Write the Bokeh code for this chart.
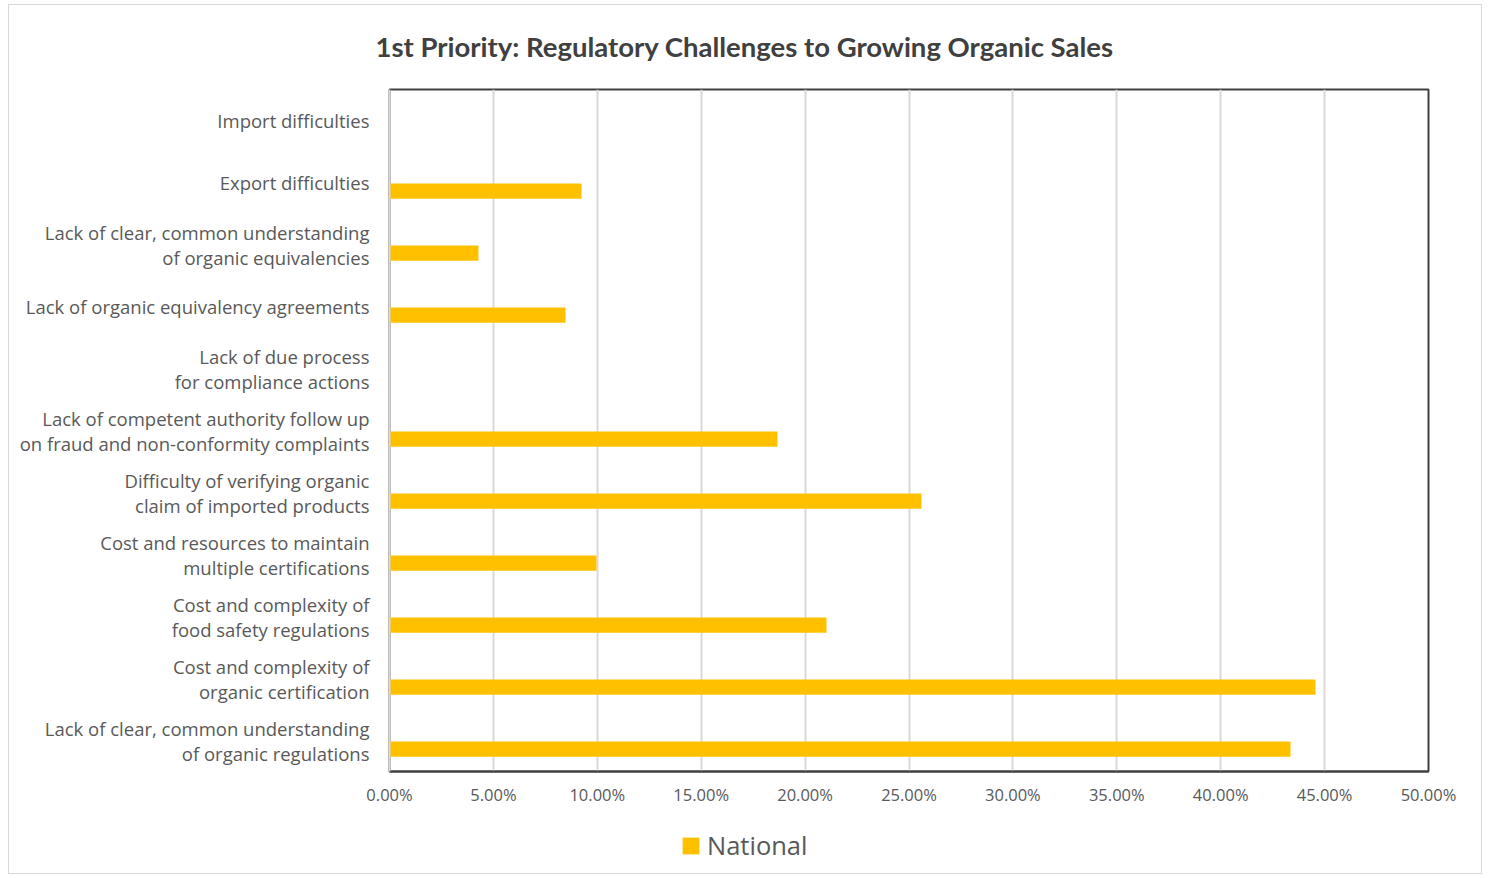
from bokeh.plotting import figure
from bokeh.layouts import column
from bokeh.models import (FactorRange, Range1d, NumeralTickFormatter, SingleIntervalTicker,
                          Legend, LegendItem, LinearAxis, CategoricalAxis, Title, ColumnDataSource)
from bokeh.transform import dodge
from bokeh.embed import file_html
from bokeh.resources import INLINE

# ---- data (top to bottom as shown) ----
categories = [
    "Import difficulties",
    "Export difficulties",
    "Lack of clear, common understanding\nof organic equivalencies",
    "Lack of organic equivalency agreements",
    "Lack of due process\nfor compliance actions",
    "Lack of competent authority follow up\non fraud and non-conformity complaints",
    "Difficulty of verifying organic\nclaim of imported products",
    "Cost and resources to maintain\nmultiple certifications",
    "Cost and complexity of\nfood safety regulations",
    "Cost and complexity of\norganic certification",
    "Lack of clear, common understanding\nof organic regulations",
]
national = [0.0, 0.0924, 0.0428, 0.0847, 0.0, 0.1867, 0.2560, 0.0996, 0.2103, 0.4456, 0.4336]
series_name = "National"
title_text = "1st Priority: Regulatory Challenges to Growing Organic Sales"

FONT = "Open Sans"
TFONT = "Lato"
BAR = "#FFC000"

src = ColumnDataSource(dict(cat=categories, val=national))

p = figure(
    y_range=FactorRange(factors=list(reversed(categories))),
    x_range=Range1d(0, 0.5),
    frame_width=1039, frame_height=682,
    min_border_left=380, min_border_right=53, min_border_top=84, min_border_bottom=40,
    output_backend="svg", toolbar_location=None,
    x_axis_location=None, y_axis_location=None,
)

r = p.hbar(y=dodge("cat", -0.14, range=p.y_range), right="val", left=0, height=0.245,
           source=src, fill_color=BAR, line_color=None)

# x axis (bottom)
xa = LinearAxis(ticker=SingleIntervalTicker(interval=0.05),
                formatter=NumeralTickFormatter(format="0.00%"))
xa.axis_line_color = "#404040"
xa.axis_line_width = 2
xa.major_tick_line_color = None
xa.minor_tick_line_color = None
xa.major_label_text_font = FONT
xa.major_label_text_font_size = "16.5px"
xa.major_label_text_color = "#595959"
xa.major_label_standoff = 5
p.add_layout(xa, "below")

# y axis (left)
ya = CategoricalAxis()
ya.axis_line_color = "#d9d9d9"
ya.axis_line_width = 2
ya.major_tick_line_color = None
ya.minor_tick_line_color = None
ya.major_label_text_font = FONT
ya.major_label_text_font_size = "18.5px"
ya.major_label_text_line_height = 1.0
ya.major_label_text_color = "#595959"
ya.major_label_standoff = 14
p.add_layout(ya, "left")

p.outline_line_color = "#404040"
p.outline_line_width = 2

p.xgrid.grid_line_color = "#d9d9d9"
p.xgrid.grid_line_width = 2
p.xgrid.ticker = SingleIntervalTicker(interval=0.05)
p.ygrid.grid_line_color = None

t = Title(text=title_text, align="left", offset=-14, vertical_align="top",
          text_font=TFONT, text_font_size="27.5px", text_font_style="bold",
          text_color="#404040", standoff=49)
p.add_layout(t, "above")

# legend strip below the chart (its glyph uses the same data, kept out of view)
p2 = figure(width=1472, height=62, x_range=Range1d(10, 11), y_range=Range1d(10, 11),
            min_border=0, output_backend="svg", toolbar_location=None,
            x_axis_location=None, y_axis_location=None)
p2.outline_line_color = None
p2.xgrid.visible = False
p2.ygrid.visible = False
r2 = p2.hbar(y="val", right="val", left=0, height=0.01, source=src,
             fill_color=BAR, line_color=None)
legend = Legend(items=[LegendItem(label=series_name, renderers=[r2])],
                location=(291, 11), orientation="horizontal",
                label_text_font=FONT, label_text_font_size="25.5px", label_text_color="#595959",
                glyph_width=21, glyph_height=21, border_line_color=None,
                background_fill_alpha=0, padding=4, margin=0, label_standoff=6)
p2.add_layout(legend, "center")

layout = column(p, p2, spacing=0)
layout.styles = {"border": "1px solid #d9d9d9", "margin-left": "8px", "margin-top": "4px"}

open("out.html", "w").write(file_html(layout, INLINE))
